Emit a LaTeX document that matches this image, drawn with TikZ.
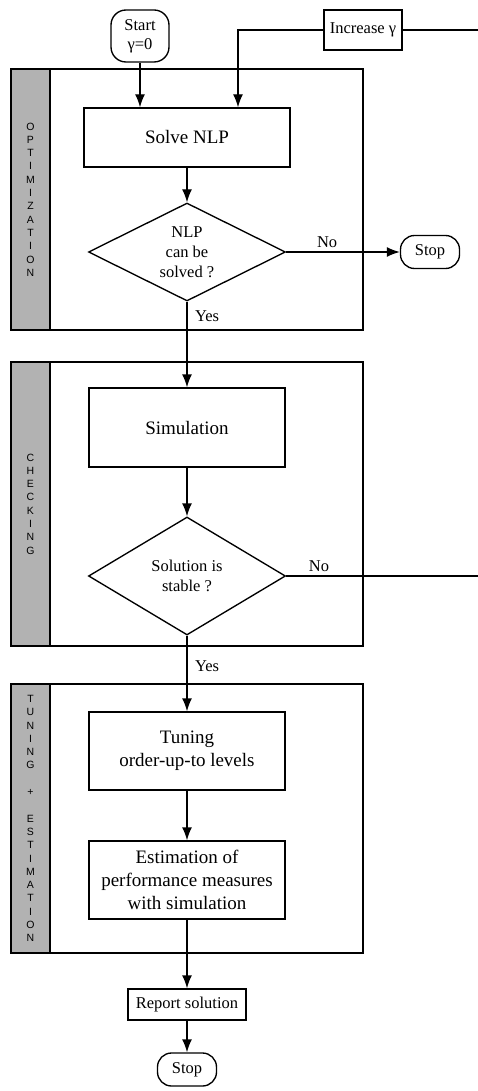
\documentclass[tikz,border=0pt]{standalone}
\usepackage{fontspec}
\setmainfont{Liberation Serif}
\setsansfont{Liberation Sans}
\usetikzlibrary{shapes.geometric,arrows.meta}

\begin{document}
\begin{tikzpicture}[x=1pt,y=-1pt,line width=1.35pt,
  proc/.style={draw, inner sep=0pt, align=center, font=\fontsize{19}{22.7}\selectfont},
  small/.style={draw, inner sep=0pt, align=center, font=\fontsize{16.5}{19}\selectfont},
  term/.style={small, rounded corners=14pt},
  decision/.style={draw, shape=diamond, aspect=2, inner sep=0pt, align=center, font=\fontsize{16.5}{20}\selectfont},
  side/.style={align=center, font=\sffamily\fontsize{10.5}{13.3}\selectfont},
  lbl/.style={font=\fontsize{16.5}{19}\selectfont},
  arr/.style={-{Latex[length=13pt,width=10pt]}}]

  \useasboundingbox (0,0) rectangle (477,1091);

  % stage frames
  \draw (11,69) rectangle (363,330);
  \draw[fill=gray!60] (11,69) rectangle (50,330);
  \draw (11,362) rectangle (363,646);
  \draw[fill=gray!60] (11,362) rectangle (50,646);
  \draw (11,684) rectangle (363,953);
  \draw[fill=gray!60] (11,684) rectangle (50,953);

  \node[side] (opt) at (30.5,199.5) {O\\P\\T\\I\\M\\I\\Z\\A\\T\\I\\O\\N};
  \node[side] (chk) at (30.5,504) {C\\H\\E\\C\\K\\I\\N\\G};
  \node[side] (tun) at (30.5,818.5) {T\\U\\N\\I\\N\\G\\[13.3pt]+\\[13.3pt]E\\S\\T\\I\\M\\A\\T\\I\\O\\N};

  % flow
  \node[term, minimum width=58pt, minimum height=52pt, rounded corners=15pt] (start) at (140,36) {Start\\γ=0};
  \node[small, minimum width=78pt, minimum height=40pt] (inc) at (363,30) {Increase γ};
  \node[proc, minimum width=206pt, minimum height=59pt] (nlp) at (187,137.5) {Solve NLP};
  \node[decision, minimum width=197pt, minimum height=98pt] (d1) at (187,252) {NLP\\can be\\solved ?};
  \node[term, minimum width=59pt, minimum height=33pt] (stop1) at (430,252) {Stop};
  \node[proc, minimum width=196pt, minimum height=79pt] (sim) at (187,427.5) {Simulation};
  \node[decision, minimum width=197pt, minimum height=118pt] (d2) at (187,576) {Solution is\\stable ?};
  \node[proc, minimum width=196pt, minimum height=78pt] (tune) at (187,751) {Tuning\\order-up-to levels};
  \node[proc, minimum width=196pt, minimum height=78pt] (est) at (187,880) {Estimation of\\performance measures\\with simulation};
  \node[small, minimum width=118pt, minimum height=31pt] (rep) at (187,1004.5) {Report solution};
  \node[term, minimum width=59pt, minimum height=33pt] (stop2) at (187,1069.5) {Stop};

  \coordinate (loop) at (479,30);

  \draw[arr] (start.south) -- (start.south |- nlp.north);
  \draw[arr] (inc.west) -| ([xshift=51pt]nlp.north);
  \draw[arr] (nlp) -- (d1);
  \draw[arr] (d1) -- node[lbl, above, pos=0.36] (no1) {No} (stop1);
  \draw[arr] (d1) -- node[lbl, right=4pt, pos=0.17] (yes1) {Yes} (sim);
  \draw[arr] (sim) -- (d2);
  \draw (d2.east) -| node[lbl, above, pos=0.085] (no2) {No} (loop) -- (inc.east);
  \draw[arr] (d2) -- node[lbl, right=4pt, pos=0.4] (yes2) {Yes} (tune);
  \draw[arr] (tune) -- (est);
  \draw[arr] (est) -- (rep);
  \draw[arr] (rep) -- (stop2);

\end{tikzpicture}
\end{document}
